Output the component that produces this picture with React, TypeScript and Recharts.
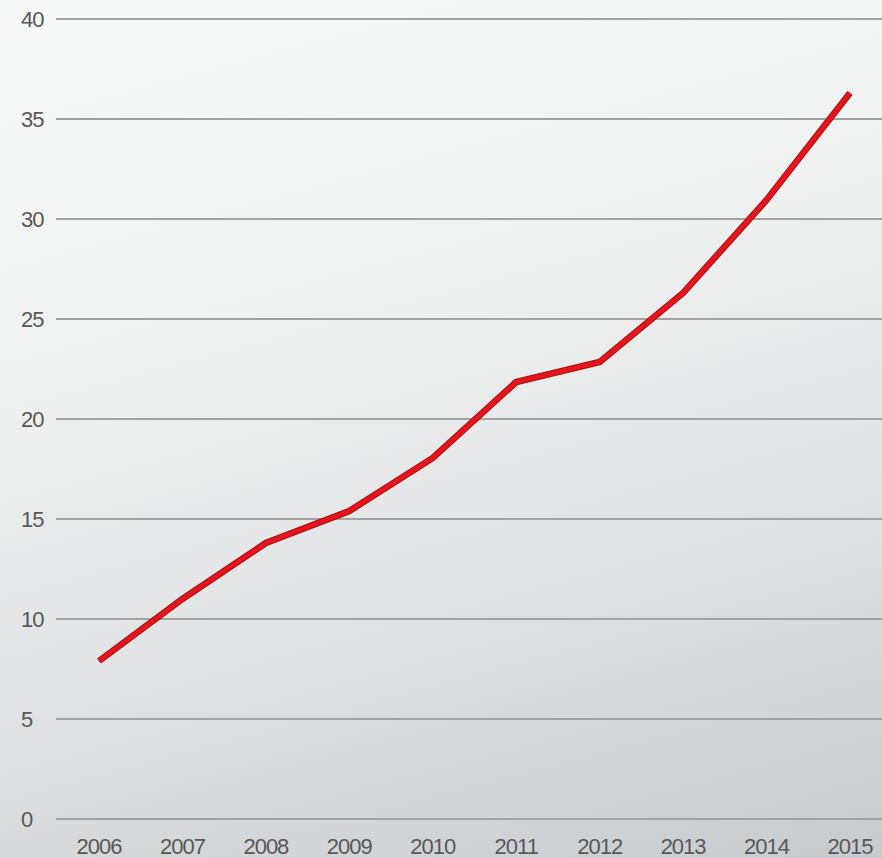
import React from "react";
import {CartesianGrid, Line, LineChart, XAxis, YAxis} from "recharts";

const years = ["2006", "2007", "2008", "2009", "2010", "2011", "2012", "2013", "2014", "2015"];
const values = [7.9, 11.0, 13.8, 15.4, 18.05, 21.85, 22.85, 26.3, 30.95, 36.3];
const yTicks = [0, 5, 10, 15, 20, 25, 30, 35, 40];

const data = years.map((year, i) => ({year, value: values[i]}));

const labelFont = "'Liberation Sans', Arial, sans-serif";
const labelColor = '#585858';

const YTick = (props: any) => {
  const {y, payload} = props;
  return <text x={21} y={y} dy={8} textAnchor="start" fill={labelColor}
               fontFamily={labelFont} fontSize={22} letterSpacing={-1}>{payload.value}</text>;
}

const XTick = (props: any) => {
  const {x, y, payload} = props;
  return <text x={x} y={y} dy={27} textAnchor="middle" fill={labelColor}
               fontFamily={labelFont} fontSize={22} letterSpacing={-1}>{payload.value}</text>;
}

export default function App() {
  return (
    <div style={{
      position: 'fixed', left: 0, top: 0, width: 882, height: 858,
      background: 'linear-gradient(165deg, #f7f8f8 0%, #f0f1f1 35%, #e0e2e3 65%, #c8cbce 100%)'
    }}>
      <LineChart width={882} height={858} data={data} margin={{top: 19, right: 0, left: 0, bottom: 0}}>
        <CartesianGrid vertical={false} stroke="#a2a2a2" strokeWidth={2}/>
        <XAxis dataKey="year" height={39} padding={{left: 43, right: 32}}
               axisLine={false} tickLine={false} tick={<XTick/>} interval={0}/>
        <YAxis width={56} domain={[0, 40]} ticks={yTicks} axisLine={false} tickLine={false}
               tick={<YTick/>}/>
        <Line type="linear" dataKey="value" stroke="#9c1414" strokeWidth={6.5} dot={false}
              isAnimationActive={false}/>
        <Line type="linear" dataKey="value" stroke="#e8131b" strokeWidth={4.5} dot={false}
              isAnimationActive={false}/>
      </LineChart>
    </div>
  );
}
